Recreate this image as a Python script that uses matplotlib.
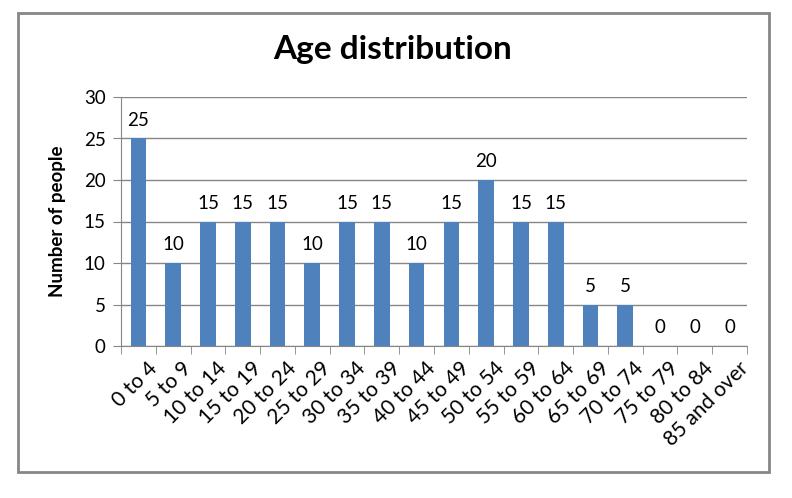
import matplotlib
matplotlib.use("Agg")
import matplotlib.pyplot as plt
from matplotlib.patches import Rectangle

categories = ["0 to 4", "5 to 9", "10 to 14", "15 to 19", "20 to 24", "25 to 29",
              "30 to 34", "35 to 39", "40 to 44", "45 to 49", "50 to 54", "55 to 59",
              "60 to 64", "65 to 69", "70 to 74", "75 to 79", "80 to 84", "85 and over"]
values = [25, 10, 15, 15, 15, 10, 15, 15, 10, 15, 20, 15, 15, 5, 5, 0, 0, 0]
yticks = [0, 5, 10, 15, 20, 25, 30]

plt.rcParams['font.family'] = ['Lato', 'DejaVu Sans']

W, H = 792, 498
fig = plt.figure(figsize=(W / 100, H / 100), dpi=100)
fig.patch.set_facecolor('white')

# outer border
fig.add_artist(Rectangle((18 / W, 1 - 472 / H), (769 - 18) / W, (472 - 13) / H,
                         transform=fig.transFigure, fill=False,
                         edgecolor='#868686', linewidth=2))

ax = fig.add_axes([121 / W, 1 - 346 / H, (747 - 121) / W, (346 - 97) / H])
n = len(categories)
x = list(range(n))
bars = ax.bar(x, values, width=0.45, color='#4F81BD', zorder=3)
ax.set_xlim(-0.5, n - 0.5)
ax.set_ylim(0, 30)
ax.set_yticks(yticks)
ax.set_yticklabels([str(t) for t in yticks], fontsize=13.5)
for t in yticks:
    ax.axhline(t, color='#868686', linewidth=1, zorder=1)
for s in ['top', 'right']:
    ax.spines[s].set_visible(False)
ax.spines['left'].set_color('#868686')
ax.spines['bottom'].set_color('#868686')
ax.tick_params(axis='y', length=6, color='#868686', pad=5)
ax.tick_params(axis='x', length=0)
ax.set_xticks(x)
ax.set_xticklabels([])
# tick marks between categories
ax.set_xticks([i - 0.5 for i in range(n + 1)], minor=True)
ax.tick_params(axis='x', which='minor', length=6, color='#868686')

for i, (xi, v) in enumerate(zip(x, values)):
    ax.text(xi, v + 1.2, str(v), ha='center', va='bottom', fontsize=13.5)
    ax.annotate(categories[i], xy=(xi, 0), xycoords=('data', 'axes fraction'),
                xytext=(6, -9), textcoords='offset points',
                rotation=45, ha='right', va='top', rotation_mode='anchor',
                fontsize=15)

fig.text(393 / W, 1 - 50 / H, "Age distribution", ha='center', va='center',
         fontsize=24, fontweight='bold')
fig.text(57 / W, 1 - 221 / H, "Number of people", ha='center', va='center',
         rotation=90, fontsize=13.5, fontweight='bold')

fig.savefig("out.png", dpi=100)
